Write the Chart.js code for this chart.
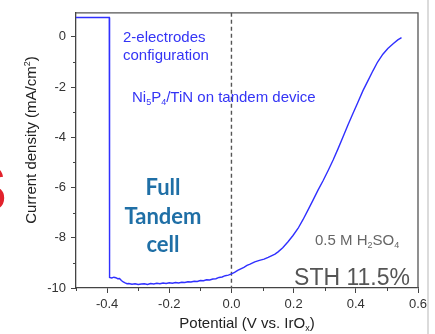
<!DOCTYPE html>
<html>
<head>
<meta charset="utf-8">
<script src="https://cdn.jsdelivr.net/npm/chart.js@4"></script>
<style>
  body { margin: 0; background: #fff; }
  canvas { display: block; }
</style>
</head>
<body>
<canvas id="jvChart" width="435" height="334"></canvas>
<script>
// values
const potential = [
  -0.5, -0.393, -0.392, -0.385, -0.378, -0.372, -0.366, -0.36, -0.354, -0.348, -0.342, -0.336, -0.33,
  -0.32, -0.31, -0.30, -0.29, -0.28, -0.27, -0.26, -0.25, -0.24, -0.23, -0.22, -0.21, -0.20,
  -0.19, -0.18, -0.17, -0.16, -0.15, -0.14, -0.13, -0.12, -0.11, -0.10, -0.09, -0.08, -0.07,
  -0.06, -0.05, -0.04, -0.03, -0.02, -0.01, 0.00, 0.01, 0.02, 0.03, 0.04, 0.05, 0.06, 0.075,
  0.09, 0.105, 0.118, 0.13, 0.14, 0.15, 0.165, 0.182, 0.198, 0.214, 0.23, 0.246, 0.262, 0.278,
  0.295, 0.311, 0.327, 0.343, 0.36, 0.375, 0.39, 0.405, 0.423, 0.44, 0.455, 0.47, 0.487, 0.503,
  0.52, 0.535, 0.547
];
const currentDensity = [
  0.77, 0.77, -9.58, -9.60, -9.57, -9.59, -9.63, -9.62, -9.70, -9.76, -9.80, -9.83, -9.82,
  -9.85, -9.83, -9.86, -9.84, -9.83, -9.86, -9.82, -9.84, -9.81, -9.83, -9.80, -9.82, -9.79,
  -9.81, -9.78, -9.80, -9.77, -9.78, -9.75, -9.76, -9.73, -9.74, -9.70, -9.71, -9.67, -9.68,
  -9.64, -9.63, -9.58, -9.56, -9.51, -9.49, -9.44, -9.38, -9.30, -9.24, -9.18, -9.10, -9.05, -8.96,
  -8.90, -8.85, -8.78, -8.71, -8.65, -8.56, -8.40, -8.16, -7.91, -7.63, -7.28, -6.90, -6.51, -6.11,
  -5.72, -5.32, -4.90, -4.45, -3.95, -3.50, -3.07, -2.65, -2.14, -1.72, -1.35, -1.00, -0.69, -0.46,
  -0.27, -0.12, -0.03
];
const xTicks = [-0.4, -0.2, 0.0, 0.2, 0.4, 0.6];
const xMinorTicks = [-0.5, -0.3, -0.1, 0.1, 0.3, 0.5];
const yTicks = [-10, -8, -6, -4, -2, 0];
const yMinorTicks = [-9, -7, -5, -3, -1];

const FONT = "'Liberation Sans', Arial, sans-serif";

// draw text made of runs, some of them sub- or superscript
function drawRuns(ctx, runs, x, y, size, align) {
  const small = Math.round(size * 0.62);
  let total = 0;
  runs.forEach(r => {
    ctx.font = (r.sub || r.sup ? small : size) + 'px ' + FONT;
    r.w = ctx.measureText(r.t).width;
    total += r.w;
  });
  let cx = align === 'center' ? x - total / 2 : align === 'right' ? x - total : x;
  ctx.textAlign = 'left';
  ctx.textBaseline = 'alphabetic';
  runs.forEach(r => {
    ctx.font = (r.sub || r.sup ? small : size) + 'px ' + FONT;
    let dy = r.sub ? size * 0.22 : r.sup ? -size * 0.4 : 0;
    ctx.fillText(r.t, cx, y + dy);
    cx += r.w;
  });
}

const decor = {
  id: 'decor',
  beforeDraw(chart) {
    const ctx = chart.ctx;
    ctx.save();
    // cut-off red letter at the left edge
    ctx.fillStyle = '#e2222c';
    ctx.font = 'bold 64px ' + FONT;
    ctx.textBaseline = 'alphabetic';
    ctx.fillText('S', -36, 211);
    // grey separator on the right
    ctx.strokeStyle = '#cfcfcf';
    ctx.lineWidth = 1.5;
    ctx.beginPath();
    ctx.moveTo(428, 0);
    ctx.lineTo(428, 334);
    ctx.stroke();
    ctx.restore();
  },
  beforeDatasetsDraw(chart) {
    const { ctx, chartArea: a, scales: { x, y } } = chart;
    ctx.save();
    ctx.strokeStyle = '#555';
    ctx.lineWidth = 1.4;
    ctx.setLineDash([4, 3]);
    const x0 = x.getPixelForValue(0);
    ctx.beginPath();
    ctx.moveTo(x0, a.top);
    ctx.lineTo(x0, a.bottom);
    ctx.stroke();
    ctx.restore();
  },
  afterDraw(chart) {
    const { ctx, chartArea: a, scales: { x, y } } = chart;
    ctx.save();
    // frame top + right
    ctx.strokeStyle = '#555';
    ctx.lineWidth = 1.3;
    ctx.beginPath();
    ctx.moveTo(a.left, a.top);
    ctx.lineTo(a.right, a.top);
    ctx.lineTo(a.right, a.bottom);
    ctx.stroke();
    // minor ticks
    ctx.strokeStyle = '#444';
    ctx.lineWidth = 1;
    ctx.beginPath();
    xMinorTicks.forEach(v => {
      const px = Math.round(x.getPixelForValue(v)) + 0.5;
      ctx.moveTo(px, a.bottom);
      ctx.lineTo(px, a.bottom + 3);
    });
    yMinorTicks.forEach(v => {
      const py = Math.round(y.getPixelForValue(v)) + 0.5;
      ctx.moveTo(a.left, py);
      ctx.lineTo(a.left - 3, py);
    });
    ctx.stroke();

    // axis titles
    ctx.fillStyle = '#222';
    drawRuns(ctx, [{ t: 'Potential (V vs. IrO' }, { t: 'x', sub: true }, { t: ')' }],
      (a.left + a.right) / 2, 328, 15, 'center');
    ctx.save();
    ctx.translate(36, 140);
    ctx.rotate(-Math.PI / 2);
    drawRuns(ctx, [{ t: 'Current density (mA/cm' }, { t: '2', sup: true }, { t: ')' }], 0, 0, 15, 'center');
    ctx.restore();

    // annotations
    ctx.fillStyle = '#3434f5';
    drawRuns(ctx, [{ t: '2-electrodes' }], 123, 42, 15, 'left');
    drawRuns(ctx, [{ t: 'configuration' }], 123, 60, 15, 'left');
    drawRuns(ctx, [{ t: 'Ni' }, { t: '5', sub: true }, { t: 'P' }, { t: '4', sub: true },
      { t: '/TiN on tandem device' }], 132, 102, 15, 'left');

    ctx.fillStyle = '#666';
    drawRuns(ctx, [{ t: '0.5 M H' }, { t: '2', sub: true }, { t: 'SO' }, { t: '4', sub: true }],
      315, 245, 15, 'left');
    ctx.fillStyle = '#555';
    drawRuns(ctx, [{ t: 'STH 11.5%' }], 410, 285, 23, 'right');

    ctx.fillStyle = '#1f6fa6';
    ctx.font = 'bold 22px Lato, ' + FONT;
    ctx.textAlign = 'center';
    ctx.textBaseline = 'middle';
    ctx.fillText('Full', 163, 188);
    ctx.fillText('Tandem', 163, 217);
    ctx.fillText('cell', 163, 245);
    ctx.restore();
  }
};

const ctx = document.getElementById('jvChart');
new Chart(ctx, {
  type: 'scatter',
  data: {
    datasets: [{
      data: potential.map((v, i) => ({ x: v, y: currentDensity[i] })),
      showLine: true,
      borderColor: '#3030ff',
      borderWidth: 1.4,
      pointRadius: 0,
      tension: 0
    }]
  },
  options: {
    responsive: false,
    devicePixelRatio: 1,
    animation: false,
    layout: { padding: { left: 0, top: 12, right: 17, bottom: 0 } },
    plugins: { legend: { display: false }, tooltip: { enabled: false } },
    scales: {
      x: {
        type: 'linear',
        min: -0.5,
        max: 0.6,
        afterBuildTicks: s => { s.ticks = xTicks.map(v => ({ value: v })); },
        afterFit: s => { s.height = 46; },
        grid: { drawOnChartArea: false, drawTicks: true, tickLength: 5, color: '#444', lineWidth: 1 },
        border: { display: true, color: '#444', width: 1.3 },
        ticks: {
          color: '#333',
          padding: 4,
          font: { family: FONT, size: 13 },
          callback: v => v.toFixed(1)
        }
      },
      y: {
        type: 'linear',
        min: -10,
        max: 0.96,
        afterBuildTicks: s => { s.ticks = yTicks.map(v => ({ value: v })); },
        afterFit: s => { s.width = 76; },
        grid: { drawOnChartArea: false, drawTicks: true, tickLength: 5, color: '#444', lineWidth: 1 },
        border: { display: true, color: '#444', width: 1.3 },
        ticks: {
          color: '#333',
          padding: 5,
          font: { family: FONT, size: 13 },
          callback: v => String(v)
        }
      }
    }
  },
  plugins: [decor]
});
</script>
</body>
</html>
